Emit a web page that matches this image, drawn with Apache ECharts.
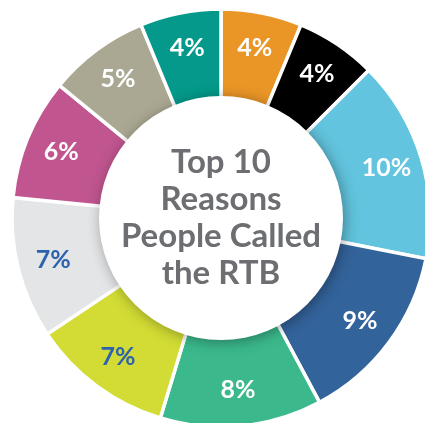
<!DOCTYPE html>
<html>
<head>
<meta charset="utf-8">
<script src="https://cdn.jsdelivr.net/npm/echarts@6/dist/echarts.min.js"></script>
<style>
html,body{margin:0;padding:0;background:#fff;}
#chart{width:425px;height:423px;}
</style>
</head>
<body>
<div id="chart"></div>
<script>
// Data
const categories = ['4%','4%','10%','9%','8%','7%','7%','6%','5%','4%'];
const values = [4, 4, 10, 9, 8, 7, 7, 6, 5, 4];
const centerLines = ['Top 10', 'Reasons', 'People Called', 'the RTB'];

// Styles
const colors = ['#EA9627','#000000','#62C4DE','#33639B','#3BB98C','#D2DC34','#E4E5E7','#C05590','#AAA892','#04998A'];
const labelColors = ['#fff','#fff','#fff','#fff','#fff','#2D62AE','#2D62AE','#fff','#fff','#fff'];

const cx = 221, cy = 218;
const chart = echarts.init(document.getElementById('chart'));

const ringData = values.map((v, i) => ({
  name: categories[i] + '_' + i,
  value: v,
  itemStyle: { color: colors[i] }
}));
const labelData = values.map((v, i) => ({
  name: categories[i] + '_' + i,
  value: v,
  label: { color: labelColors[i] }
}));

chart.setOption({
  animation: false,
  backgroundColor: '#fff',
  series: [
    {
      type: 'pie',
      center: [cx, cy],
      radius: [110, 209],
      startAngle: 90,
      clockwise: true,
      silent: true,
      label: { show: false },
      labelLine: { show: false },
      itemStyle: { borderColor: '#fff', borderWidth: 3.5 },
      data: ringData,
      z: 1
    },
    {
      type: 'pie',
      center: [cx, cy],
      radius: [133, 207],
      startAngle: 90,
      clockwise: true,
      silent: true,
      itemStyle: { color: 'rgba(0,0,0,0)' },
      label: {
        show: true,
        position: 'inside',
        formatter: '{c}%',
        fontFamily: 'Lato',
        fontWeight: 'bold',
        fontSize: 25
      },
      labelLine: { show: false },
      data: labelData,
      z: 5
    }
  ],
  graphic: [
    {
      type: 'circle',
      shape: { cx: cx, cy: cy, r: 122 },
      style: {
        fill: '#fff',
        shadowBlur: 14,
        shadowColor: 'rgba(0,0,0,0.35)',
        shadowOffsetX: 2,
        shadowOffsetY: 2
      },
      z: 3
    },
    {
      type: 'text',
      x: cx,
      y: cy,
      style: {
        text: centerLines.join('\n'),
        fill: '#6D6E71',
        fontFamily: 'Lato',
        fontWeight: 'bold',
        fontSize: 33,
        lineHeight: 37,
        align: 'center',
        verticalAlign: 'middle'
      },
      z: 4
    }
  ]
});
</script>
</body>
</html>
